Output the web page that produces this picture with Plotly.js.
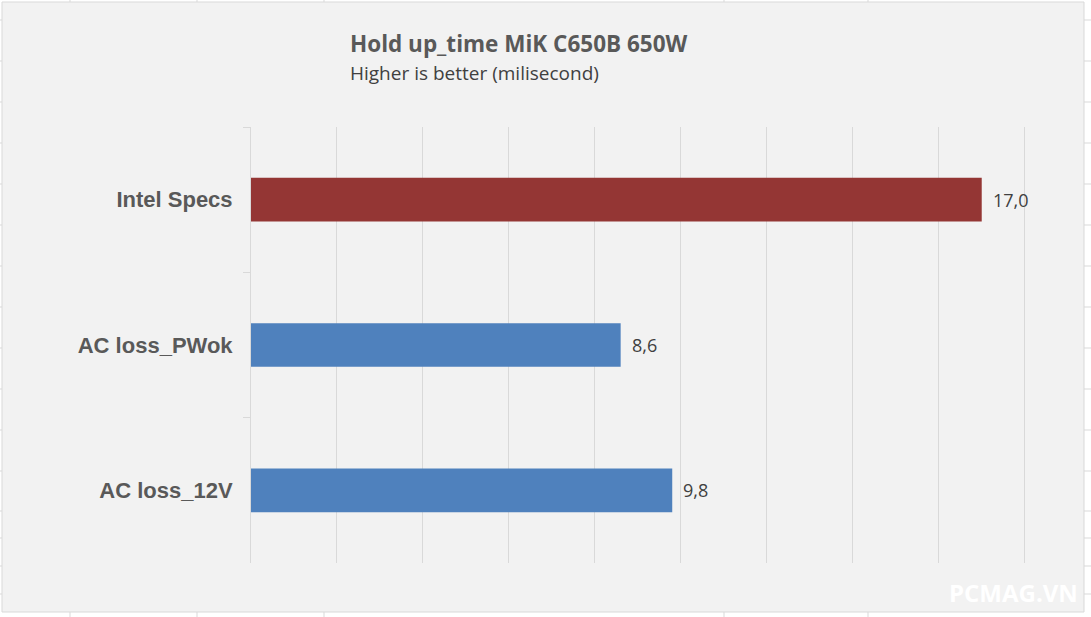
<!DOCTYPE html>
<html>
<head>
<meta charset="utf-8">
<script src="https://cdn.plot.ly/plotly-3.0.1.min.js"></script>
<style>html,body{margin:0;padding:0;background:#fff;}#chart{width:1091px;height:617px;}</style>
</head>
<body>
<div id="chart"></div>
<script>
const categories = ["Intel Specs", "AC loss_PWok", "AC loss_12V"];
const values = [17.0, 8.6, 9.8];
const barColors = ["#943634", "#4f81bd", "#4f81bd"];
const titleText = "Hold up_time MiK C650B 650W";
const subtitleText = "Higher is better (milisecond)";
const watermark = "PCMAG.VN";

const labels = values.map(v => v.toFixed(1).replace('.', ','));

// plot area in pixels
const PL = 251, PR = 1026, PT = 127, PB = 563;
function px(x){return (x - PL)/(PR - PL);}
function py(y){return (PB - y)/(PB - PT);}

const trace = {
  type: 'bar',
  orientation: 'h',
  y: categories,
  x: values,
  marker: {color: barColors},
  hoverinfo: 'none'
};

const annotations = categories.map((c, i) => ({
  x: values[i], y: c, xref: 'x', yref: 'y',
  text: labels[i], showarrow: false, xanchor: 'left', xshift: 9,
  font: {family: 'Open Sans, sans-serif', size: 18, color: '#404040'}
}));

annotations.push({
  xref: 'paper', yref: 'paper', x: px(348), y: py(44), xanchor: 'left', yanchor: 'middle',
  text: '<b>' + titleText + '</b>', showarrow: false,
  font: {family: 'Open Sans, sans-serif', size: 22.5, color: '#595959'}
});
annotations.push({
  xref: 'paper', yref: 'paper', x: px(348), y: py(73), xanchor: 'left', yanchor: 'middle',
  text: subtitleText, showarrow: false,
  font: {family: 'Open Sans, sans-serif', size: 19, color: '#404040'}
});
annotations.push({
  xref: 'paper', yref: 'paper', x: px(1080), y: py(592), xanchor: 'right', yanchor: 'middle',
  text: '<b>' + watermark + '</b>', showarrow: false,
  font: {family: 'Open Sans, sans-serif', size: 24, color: '#ffffff'}
});

const shapes = [
  {type:'rect', xref:'paper', yref:'paper', x0:px(2), x1:px(1084), y0:py(612), y1:py(2),
   fillcolor:'#f2f2f2', line:{color:'#d9d9d9', width:1}, layer:'below'}
];
// spreadsheet cell gridlines peeking around the chart
[70, 197, 324, 724, 868].forEach(x => {
  shapes.push({type:'line', xref:'paper', yref:'paper', x0:px(x), x1:px(x), y0:py(0), y1:py(2), line:{color:'#d9d9d9', width:1}, layer:'below'});
  shapes.push({type:'line', xref:'paper', yref:'paper', x0:px(x), x1:px(x), y0:py(612), y1:py(617), line:{color:'#d9d9d9', width:1}, layer:'below'});
});
[20, 61, 102, 143, 184, 225, 266, 307, 348, 389, 430, 471, 511, 538, 566, 594].forEach(y => {
  shapes.push({type:'line', xref:'paper', yref:'paper', x0:px(0), x1:px(2), y0:py(y), y1:py(y), line:{color:'#d9d9d9', width:1}, layer:'below'});
  shapes.push({type:'line', xref:'paper', yref:'paper', x0:px(1084), x1:px(1091), y0:py(y), y1:py(y), line:{color:'#d9d9d9', width:1}, layer:'below'});
});

const layout = {
  width: 1091, height: 617,
  margin: {l: PL, r: 1091 - PR, t: PT, b: 617 - PB},
  paper_bgcolor: '#ffffff',
  plot_bgcolor: 'rgba(0,0,0,0)',
  showlegend: false,
  bargap: 0.7,
  xaxis: {
    range: [0, 18.03], dtick: 2, tick0: 0,
    showgrid: true, gridcolor: '#d9d9d9', gridwidth: 1,
    showticklabels: false, zeroline: false, showline: false, ticks: ''
  },
  yaxis: {
    autorange: 'reversed',
    showline: true, linecolor: '#d9d9d9', linewidth: 1,
    ticks: 'outside', tickson: 'boundaries', ticklen: 7, tickcolor: '#d9d9d9',
    showgrid: false, zeroline: false,
    ticklabelstandoff: 13,
    tickfont: {family: 'Liberation Sans, Arial, sans-serif', size: 22, color: '#595959', weight: 'bold'}
  },
  annotations: annotations,
  shapes: shapes
};

Plotly.newPlot('chart', [trace], layout, {displayModeBar: false, staticPlot: true});
</script>
</body>
</html>
